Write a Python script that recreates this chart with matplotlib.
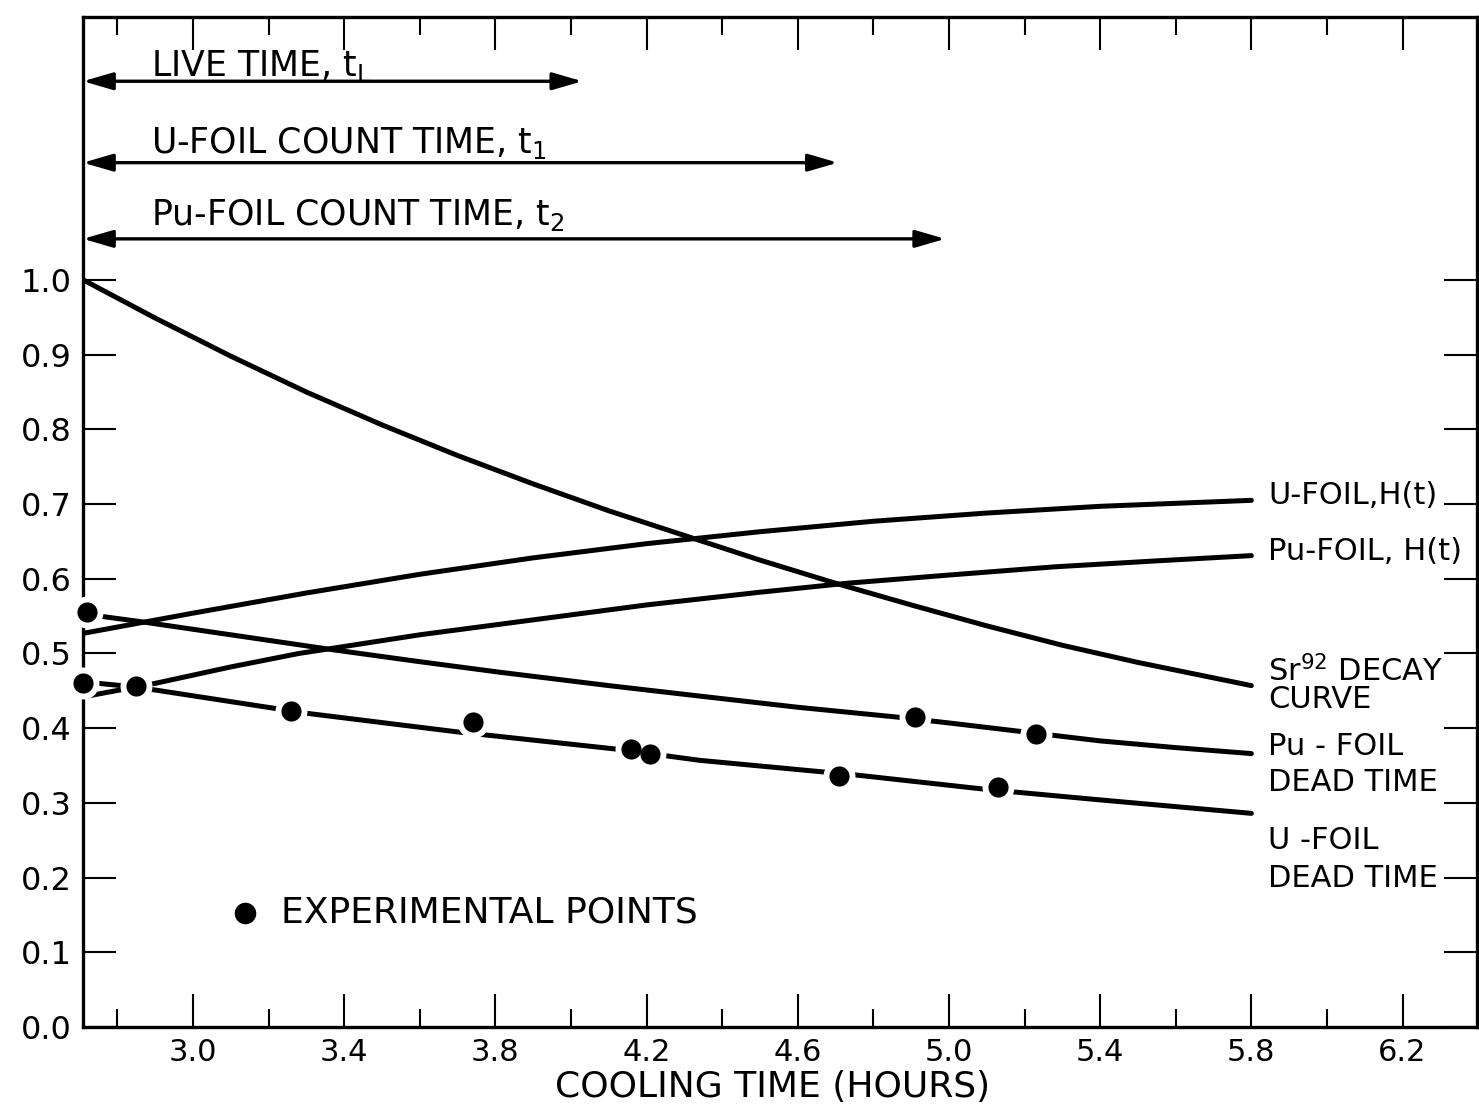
import numpy as np
import matplotlib.pyplot as plt

plt.rcParams['font.family'] = 'DejaVu Sans'
plt.rcParams['mathtext.default'] = 'regular'

# cooling time (hours) vs. relative value
sr_t = [2.71, 2.90, 3.10, 3.30, 3.50, 3.70, 3.90, 4.10, 4.30, 4.50, 4.70, 4.90, 5.10, 5.30, 5.50, 5.80]
sr_y = [1.000, 0.949, 0.898, 0.850, 0.806, 0.765, 0.727, 0.691, 0.658, 0.625, 0.594, 0.565, 0.537, 0.511, 0.488, 0.457]

uh_t = [2.71, 3.00, 3.30, 3.60, 3.90, 4.20, 4.50, 4.80, 5.10, 5.40, 5.80]
uh_y = [0.527, 0.554, 0.581, 0.606, 0.628, 0.647, 0.663, 0.677, 0.688, 0.697, 0.705]

puh_t = [2.71, 2.90, 3.10, 3.28, 3.60, 3.87, 4.20, 4.50, 4.73, 5.00, 5.28, 5.55, 5.80]
puh_y = [0.442, 0.460, 0.482, 0.500, 0.525, 0.543, 0.565, 0.582, 0.594, 0.605, 0.616, 0.624, 0.631]

pud_t = [2.71, 2.87, 3.10, 3.37, 3.60, 3.81, 4.10, 4.34, 4.60, 4.86, 5.00, 5.20, 5.40, 5.60, 5.80]
pud_y = [0.553, 0.542, 0.525, 0.505, 0.489, 0.475, 0.457, 0.443, 0.428, 0.415, 0.407, 0.395, 0.383, 0.374, 0.366]

ud_t = [2.71, 2.85, 3.30, 3.70, 4.12, 4.34, 4.76, 5.10, 5.40, 5.80]
ud_y = [0.462, 0.455, 0.420, 0.395, 0.372, 0.357, 0.337, 0.318, 0.304, 0.286]

# experimental points
pu_pts_t = [2.72, 4.91, 5.23]
pu_pts_y = [0.555, 0.415, 0.392]
u_pts_t = [2.71, 2.85, 3.26, 3.74, 4.16, 4.21, 4.71, 5.13]
u_pts_y = [0.460, 0.456, 0.423, 0.408, 0.372, 0.365, 0.336, 0.321]

# count time arrows: (height, end time)
arrow_y = [1.266, 1.157, 1.055]
arrow_end = [4.03, 4.706, 4.99]
arrow_txt = [r'LIVE TIME, t$_L$', r'U-FOIL COUNT TIME, t$_1$', r'Pu-FOIL COUNT TIME, t$_2$']
arrow_txt_y = [1.273, 1.170, 1.074]

xlim = (2.709, 6.397)
ylim = (0.0, 1.352)

fig = plt.figure(figsize=(14.79, 11.06), dpi=100)
ax = fig.add_axes([83 / 1479, 1 - 1027 / 1106, 1394 / 1479, 1010 / 1106])

lw = 3.6
for t, y in [(sr_t, sr_y), (uh_t, uh_y), (puh_t, puh_y), (pud_t, pud_y), (ud_t, ud_y)]:
    ax.plot(t, y, color='black', lw=lw, solid_capstyle='round',
            solid_joinstyle='round', zorder=2)

pts_t = pu_pts_t + u_pts_t
pts_y = pu_pts_y + u_pts_y
# white halo breaks the line around each point
ax.plot(pts_t, pts_y, 'o', ms=23, color='white', mec='none', zorder=3, clip_on=False)
ax.plot(pts_t, pts_y, 'o', ms=14.5, color='black', mec='none', zorder=4, clip_on=False)

for y, x1, txt, ty in zip(arrow_y, arrow_end, arrow_txt, arrow_txt_y):
    ax.annotate('', xy=(x1, y), xytext=(xlim[0], y),
                arrowprops=dict(arrowstyle='<|-|>,head_length=0.55,head_width=0.16',
                                mutation_scale=33, lw=2.4, color='black',
                                shrinkA=0, shrinkB=0))
    ax.text(2.89, ty, txt, fontsize=25, va='baseline')

# curve labels on the right
lab_x = 5.844
ax.text(lab_x, 0.711, 'U-FOIL,H(t)', fontsize=22, va='center')
ax.text(lab_x, 0.637, 'Pu-FOIL, H(t)', fontsize=22, va='center')
ax.text(lab_x, 0.477, r'Sr$^{92}$ DECAY', fontsize=22, va='center')
ax.text(lab_x, 0.438, 'CURVE', fontsize=22, va='center')
ax.text(lab_x, 0.375, 'Pu - FOIL', fontsize=22, va='center')
ax.text(lab_x, 0.327, 'DEAD TIME', fontsize=22, va='center')
ax.text(lab_x, 0.250, 'U -FOIL', fontsize=22, va='center')
ax.text(lab_x, 0.199, 'DEAD TIME', fontsize=22, va='center')

ax.plot(3.138, 0.153, 'o', ms=14.5, color='black')
ax.text(3.233, 0.153, 'EXPERIMENTAL POINTS', fontsize=26, va='center')

ax.set_xlim(*xlim)
ax.set_ylim(*ylim)
ax.set_xticks(np.arange(3.0, 6.21, 0.4))
ax.set_xticklabels(['%.1f' % v for v in np.arange(3.0, 6.21, 0.4)])
ax.set_xticks(np.arange(2.8, 6.01, 0.4), minor=True)
ax.set_yticks(np.arange(0.0, 1.01, 0.1))
ax.set_yticklabels(['%.1f' % v for v in np.arange(0.0, 1.01, 0.1)])

ax.tick_params(axis='x', which='major', direction='in', length=24, width=1.5,
               top=True, labelsize=22, pad=8)
ax.tick_params(axis='x', which='minor', direction='in', length=13, width=1.5, top=True)
ax.tick_params(axis='y', direction='in', length=24, width=1.5, right=True,
               labelsize=23, pad=8)
for s in ax.spines.values():
    s.set_linewidth(2.4)

fig.text(773 / 1479, 1 - 1087 / 1106, 'COOLING TIME (HOURS)', fontsize=26,
         ha='center', va='center')

fig.savefig('out.png', dpi=100)
